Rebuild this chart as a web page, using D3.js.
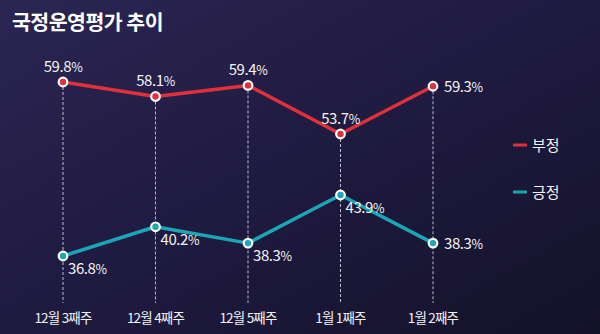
<!DOCTYPE html>
<html><head><meta charset="utf-8">
<script src="https://cdn.jsdelivr.net/npm/d3@7"></script>
<style>
html,body{margin:0;padding:0;background:#1c1838;}
svg{display:block;font-family:"Noto Sans CJK KR","Noto Sans",sans-serif;}
</style></head>
<body>
<svg id="c" width="600" height="334"></svg>
<script>
const categories = ["12월 3째주","12월 4째주","12월 5째주","1월 1째주","1월 2째주"];
const negative = [59.8, 58.1, 59.4, 53.7, 59.3];
const positive = [36.8, 40.2, 38.3, 43.9, 38.3];
const seriesNames = ["부정","긍정"];
const colors = ["#e0313a","#1ba6b8"];

const svg = d3.select("#c");
const defs = svg.append("defs");
const g = defs.append("linearGradient").attr("id","bg").attr("x1","0").attr("y1","0").attr("x2","1").attr("y2","1");
g.append("stop").attr("offset","0").attr("stop-color","#2b2553");
g.append("stop").attr("offset","0.5").attr("stop-color","#1f1a40");
g.append("stop").attr("offset","1").attr("stop-color","#141229");
svg.append("rect").attr("width",600).attr("height",334).attr("fill","url(#bg)");

svg.append("text").attr("x",12).attr("y",30).attr("fill","#ffffff")
  .attr("font-size",20.5).attr("font-weight",700).attr("letter-spacing",-0.5).text("국정운영평가 추이");

const x = d3.scalePoint().domain(categories).range([63,433]);
const yNeg = d3.scaleLinear().domain([53.7,59.8]).range([134,82]);
const yPos = d3.scaleLinear().domain([36.8,43.9]).range([256,195]);

// dashed guide lines
svg.append("g").selectAll("line").data(categories).join("line")
  .attr("x1",d=>x(d)).attr("x2",d=>x(d))
  .attr("y1",(d,i)=>yNeg(negative[i])+5).attr("y2",303)
  .attr("stroke","rgba(255,255,255,0.7)").attr("stroke-width",1).attr("stroke-dasharray","3,2");

// x labels
svg.append("g").selectAll("text").data(categories).join("text")
  .attr("x",d=>x(d)).attr("y",323).attr("text-anchor","middle")
  .attr("fill","#f2f2f2").attr("font-size",13.5).attr("letter-spacing",-0.8).text(d=>d);

function drawSeries(vals, y, color){
  const line = d3.line().x((d,i)=>x(categories[i])).y(d=>y(d));
  svg.append("path").datum(vals).attr("d",line).attr("fill","none")
    .attr("stroke",color).attr("stroke-width",3.5).attr("stroke-linejoin","round");
  svg.append("g").selectAll("circle").data(vals).join("circle")
    .attr("cx",(d,i)=>x(categories[i])).attr("cy",d=>y(d)).attr("r",4.3)
    .attr("fill",color).attr("stroke","#ffffff").attr("stroke-width",2.2);
}
drawSeries(negative, yNeg, colors[0]);
drawSeries(positive, yPos, colors[1]);

function label(xp, yp, v, anchor){
  const t = svg.append("text").attr("x",xp).attr("y",yp).attr("text-anchor",anchor)
    .attr("fill","#f4f4f4").attr("font-size",15).attr("letter-spacing",-0.4);
  t.append("tspan").text(v.toFixed(1));
  t.append("tspan").attr("font-size",12.5).text("%");
}
// negative labels
negative.forEach((v,i)=>{
  const cx = x(categories[i]), cy = yNeg(v);
  if(i===negative.length-1) label(cx+11, cy+5.5, v, "start");
  else label(cx, cy-10, v, "middle");
});
// positive labels
positive.forEach((v,i)=>{
  const cx = x(categories[i]), cy = yPos(v);
  if(i===positive.length-1) label(cx+11, cy+5.5, v, "start");
  else label(cx+5, cy+18, v, "start");
});

// legend
const leg = svg.append("g").selectAll("g").data(seriesNames).join("g")
  .attr("transform",(d,i)=>`translate(513,${145+i*47})`);
leg.append("line").attr("x1",0).attr("x2",14).attr("stroke",(d,i)=>colors[i]).attr("stroke-width",3);
leg.append("text").attr("x",19).attr("y",5.5).attr("fill","#f4f4f4").attr("font-size",15).text(d=>d);
</script>
</body></html>
